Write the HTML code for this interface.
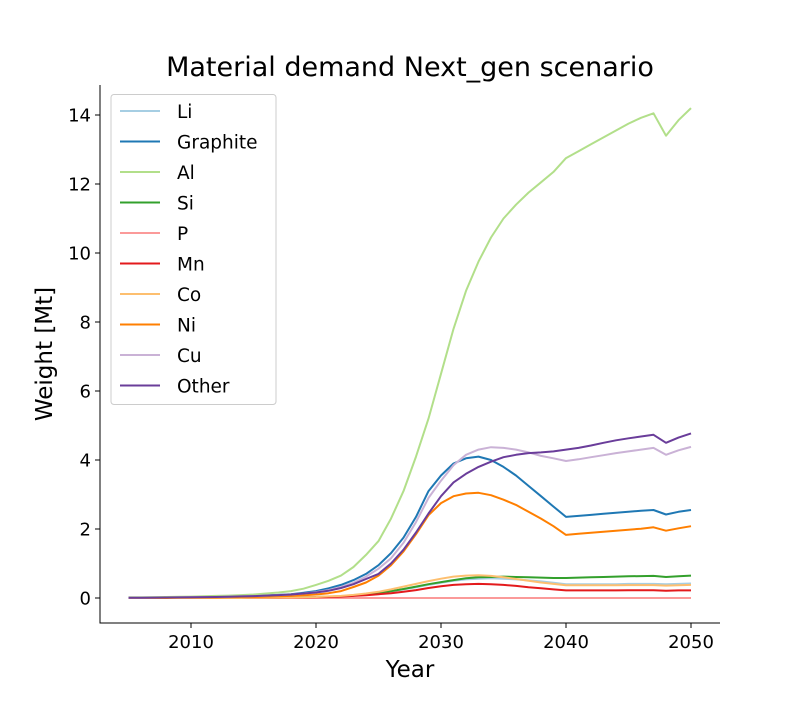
<!DOCTYPE html>
<html><head><meta charset="utf-8"><style>
body{margin:0;background:#fff;font-family:"Liberation Sans","DejaVu Sans",sans-serif}
svg text{font-family:"DejaVu Sans","Liberation Sans",sans-serif}
</style></head><body>
<svg id="chart" width="800" height="700" xmlns="http://www.w3.org/2000/svg">
<rect width="800" height="700" fill="#fff"/>
<text x="410" y="76" font-size="27" text-anchor="middle">Material demand Next_gen scenario</text>
<g id="plot"></g>
</svg>
<script>
const years = Array.from({length:46},(_,i)=>2005+i);
const seriesNames = ["Li","Graphite","Al","Si","P","Mn","Co","Ni","Cu","Other"];
const colors = ["#a6cee3","#1f78b4","#b2df8a","#33a02c","#fb9a99","#e31a1c","#fdbf6f","#ff7f00","#cab2d6","#6a3d9a"];
const liValues = [0,0,0,0,0,0,0,0,0,0,0.005,0.01,0.01,0.015,0.02,0.03,0.04,0.05,0.07,0.1,0.14,0.19,0.25,0.31,0.38,0.44,0.5,0.54,0.56,0.57,0.56,0.54,0.51,0.48,0.44,0.4,0.4,0.4,0.4,0.4,0.41,0.41,0.41,0.4,0.41,0.42];
const graphiteValues = [0.01,0.01,0.012,0.015,0.018,0.02,0.025,0.03,0.04,0.05,0.06,0.075,0.09,0.11,0.15,0.2,0.28,0.38,0.52,0.7,0.95,1.3,1.75,2.35,3.1,3.55,3.9,4.05,4.1,4.0,3.8,3.55,3.25,2.95,2.65,2.35,2.38,2.41,2.44,2.47,2.5,2.53,2.55,2.42,2.5,2.55];
const alValues = [0.02,0.022,0.025,0.03,0.035,0.04,0.05,0.06,0.07,0.085,0.1,0.13,0.16,0.2,0.27,0.38,0.5,0.65,0.9,1.25,1.65,2.3,3.1,4.1,5.2,6.5,7.8,8.9,9.75,10.45,11.0,11.4,11.75,12.05,12.35,12.75,12.95,13.15,13.35,13.55,13.75,13.92,14.05,13.4,13.85,14.2];
const siValues = [0,0,0,0,0,0,0,0,0,0,0.005,0.01,0.01,0.015,0.02,0.03,0.04,0.05,0.07,0.1,0.15,0.2,0.26,0.33,0.4,0.46,0.52,0.57,0.6,0.61,0.62,0.61,0.6,0.59,0.58,0.58,0.59,0.6,0.61,0.62,0.63,0.635,0.64,0.61,0.63,0.65];
const pValues = [0,0,0,0,0,0,0,0,0,0,0,0,0,0,0,0,0,0,0,0,0,0,0,0,0,0,0,0,0,0,0,0,0,0,0,0,0,0,0,0,0,0,0,0,0,0];
const mnValues = [0,0,0,0,0,0,0,0,0,0,0.005,0.01,0.01,0.012,0.015,0.02,0.03,0.04,0.06,0.08,0.11,0.14,0.18,0.23,0.29,0.34,0.38,0.4,0.41,0.4,0.38,0.35,0.31,0.28,0.25,0.22,0.22,0.22,0.22,0.22,0.225,0.225,0.225,0.21,0.22,0.22];
const coValues = [0,0,0,0,0,0,0,0,0,0,0.005,0.01,0.012,0.015,0.02,0.03,0.045,0.06,0.09,0.13,0.18,0.25,0.33,0.41,0.49,0.56,0.62,0.65,0.66,0.64,0.6,0.55,0.5,0.45,0.41,0.37,0.37,0.37,0.37,0.37,0.375,0.375,0.375,0.36,0.37,0.38];
const niValues = [0,0,0,0,0.005,0.01,0.012,0.015,0.02,0.025,0.03,0.04,0.05,0.06,0.08,0.1,0.14,0.2,0.32,0.45,0.65,0.95,1.35,1.85,2.4,2.75,2.95,3.03,3.05,2.98,2.85,2.7,2.5,2.3,2.08,1.83,1.86,1.89,1.92,1.95,1.98,2.01,2.05,1.95,2.02,2.08];
const cuValues = [0.01,0.01,0.012,0.015,0.018,0.02,0.025,0.03,0.035,0.045,0.055,0.07,0.085,0.1,0.13,0.17,0.23,0.32,0.44,0.62,0.85,1.15,1.6,2.2,2.9,3.4,3.85,4.15,4.3,4.37,4.35,4.3,4.22,4.12,4.05,3.97,4.02,4.08,4.14,4.2,4.25,4.3,4.35,4.15,4.28,4.38];
const otherValues = [0.01,0.01,0.012,0.015,0.018,0.02,0.025,0.03,0.035,0.045,0.055,0.07,0.085,0.1,0.13,0.16,0.21,0.29,0.4,0.55,0.7,1.0,1.4,1.9,2.45,2.95,3.35,3.6,3.8,3.95,4.08,4.15,4.2,4.22,4.25,4.3,4.35,4.42,4.5,4.57,4.63,4.68,4.73,4.5,4.65,4.77];
const allValues = [liValues,graphiteValues,alValues,siValues,pValues,mnValues,coValues,niValues,cuValues,otherValues];
const xTicks = [2010,2020,2030,2040,2050];
const yTicks = [0,2,4,6,8,10,12,14];

const L=100,R=720,T=85,B=623;
const X=v=>128.5+(v-2005)*12.5;
const Y=v=>598-v*34.5;
const NS="http://www.w3.org/2000/svg";
const g=document.getElementById('plot');
function mk(tag,attrs,parent){const e=document.createElementNS(NS,tag);for(const k in attrs)e.setAttribute(k,attrs[k]);(parent||g).appendChild(e);return e;}

allValues.forEach((vals,i)=>{
  const d=vals.map((v,j)=>(j?'L':'M')+X(years[j]).toFixed(1)+','+Y(v).toFixed(1)).join(' ');
  const p=mk('path',{d:d,fill:'none',stroke:colors[i],'stroke-width':2,'stroke-linejoin':'round'});
  
  
});
const ax=mk('path',{d:`M${L},${T}V${B}H${R}`,fill:'none',stroke:'#000','stroke-width':1});


xTicks.forEach(t=>{
  mk('line',{x1:X(t),x2:X(t),y1:B,y2:B+5,stroke:'#000'});
  const tx=mk('text',{x:X(t),y:B+25,'font-size':18,'text-anchor':'middle'});
  tx.textContent=t;
  
  
});
yTicks.forEach(t=>{
  mk('line',{x1:L-5,x2:L,y1:Y(t),y2:Y(t),stroke:'#000'});
  const tx=mk('text',{x:L-9,y:Y(t)+6.5,'font-size':18,'text-anchor':'end'});
  tx.textContent=t;
  
  
});
const xl=mk('text',{x:410,y:677,'font-size':23,'text-anchor':'middle'});
xl.textContent='Year';


const yl=mk('text',{x:0,y:0,'font-size':23,'text-anchor':'middle',transform:'translate(52,354) rotate(-90)'});
yl.textContent='Weight [Mt]';


const lg=mk('g',{});


mk('rect',{x:111,y:94.5,width:165,height:310,rx:3,fill:'#fff','fill-opacity':0.8,stroke:'#ccc'},lg);
seriesNames.forEach((n,i)=>{
  const y=111+i*30.5;
  const e=mk('g',{},lg);
  
  
  mk('line',{x1:120,x2:160,y1:y,y2:y,stroke:colors[i],'stroke-width':2},e);
  const tx=mk('text',{x:177,y:y+7,'font-size':18.5},e);
  tx.textContent=n;
});
</script>
</body></html>
